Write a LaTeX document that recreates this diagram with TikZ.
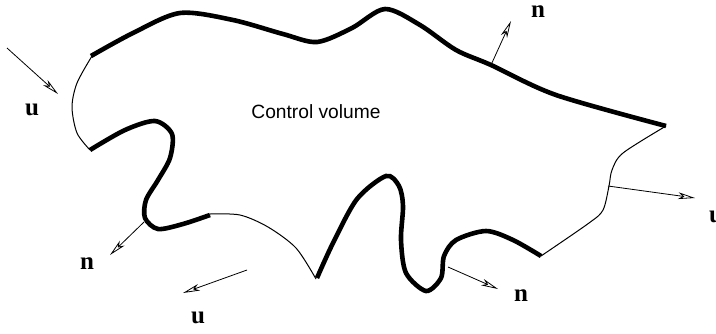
\documentclass[tikz,border=0pt]{standalone}
\usepackage{fontspec}
\setmainfont{Liberation Serif}
\setsansfont{Liberation Sans}
\usetikzlibrary{arrows.meta}
\begin{document}
\begin{tikzpicture}[>={Stealth[open,length=8.5pt,width=3.4pt,inset=2.4pt]},x=.5pt,y=-.5pt,
    wall/.style={line width=2.3pt},
    opening/.style={line width=.5pt},
    vec/.style={->,line width=.4pt},
    lbl/.style={font=\fontsize{12.5}{14}\selectfont\bfseries,inner sep=0pt}]
    \useasboundingbox (0,0) rectangle (716,333);
    % solid walls
    \draw[wall] plot[smooth] coordinates {(91,56) (133,33) (180,13) (233,20) (283,34) (317,42)
        (352,28) (385,9) (420,25) (456,50) (491,65) (556,95) (666,126)};
    \draw[wall] plot[smooth] coordinates {(317,278) (333,243) (357,199) (386,176) (399,186) (403,206)
        (401,240) (406,273) (426,291) (441,278) (444,256) (456,240) (486,231) (513,240) (541,256)};
    \draw[wall] plot[smooth] coordinates {(210,215) (183,224) (158,229) (145,218) (146,200)
        (158,180) (170,158) (172,134) (155,121) (125,130) (90,150)};
    % inlets and outlets
    \draw[opening] plot[smooth] coordinates {(666,126) (623,153) (612,170) (609,186) (603,210) (589,223) (541,256)};
    \draw[opening] plot[smooth] coordinates {(316,279) (296,248) (268,227) (240,215) (210,214)};
    \draw[opening] plot[smooth] coordinates {(90,150) (77,133) (72,107) (77,83) (92,56)};
    \node[font=\sffamily\fontsize{9.6}{11}\selectfont] (cv) at (316,112) {Control volume};
    % vectors
    \coordinate (uinA) at (7,48);    \coordinate (uinB) at (58,94);
    \coordinate (ntA) at (491,65);   \coordinate (ntB) at (511,21);
    \coordinate (uoA) at (608,186);  \coordinate (uoB) at (695,198);
    \coordinate (nlA) at (144,222);  \coordinate (nlB) at (110,255);
    \coordinate (ubA) at (247,270);  \coordinate (ubB) at (183,293);
    \coordinate (nrA) at (448,267);  \coordinate (nrB) at (498,289);
    \draw[vec] (uinA) -- (uinB);
    \draw[vec] (ntA) -- (ntB);
    \draw[vec] (uoA) -- (uoB);
    \draw[vec] (nlA) -- (nlB);
    \draw[vec] (ubA) -- (ubB);
    \draw[vec] (nrA) -- (nrB);
    \node[lbl] (uin) at (32,110) {u};
    \node[lbl] (nt) at (538,12) {n};
    \node[lbl] (uo) at (716,217) {u};
    \node[lbl] (nl) at (87,264) {n};
    \node[lbl] (ub) at (198,318) {u};
    \node[lbl] (nr) at (521,296) {n};
\end{tikzpicture}
\end{document}
